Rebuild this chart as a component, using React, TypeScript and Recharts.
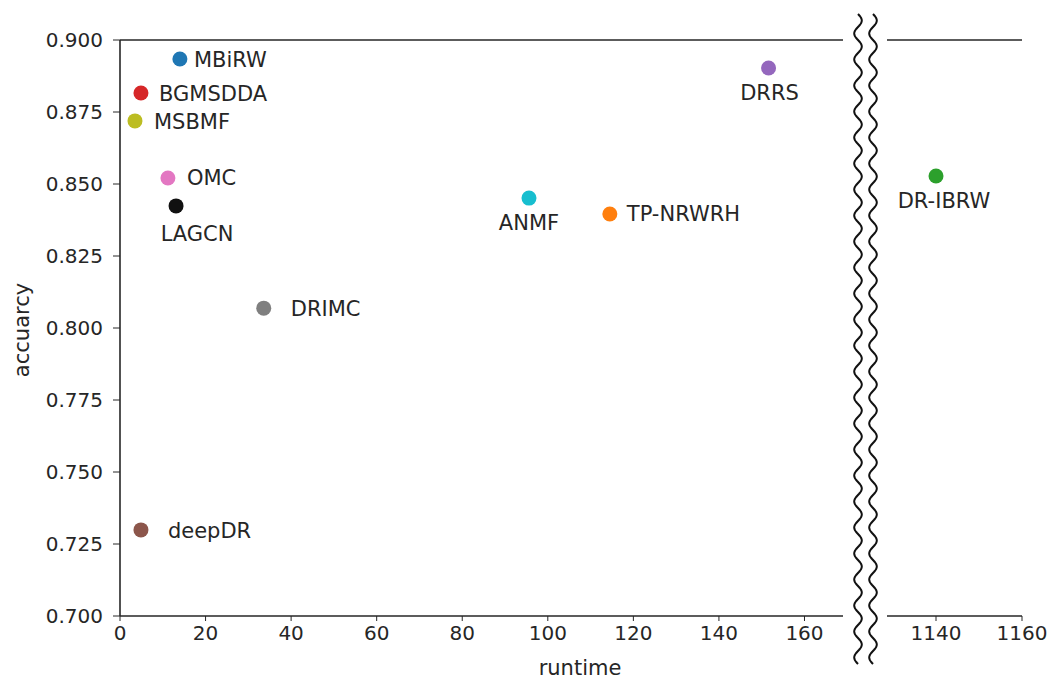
import { ReferenceLine, Scatter, ScatterChart, XAxis, YAxis } from "recharts";

const FONT = "'DejaVu Sans', 'Liberation Sans', sans-serif";
const INK = "#262626";

// methods, runtime (x) and accuracy (y)
const methods = [
  "MBiRW", "BGMSDDA", "MSBMF", "OMC", "LAGCN", "DRIMC",
  "deepDR", "ANMF", "TP-NRWRH", "DRRS", "DR-IBRW",
];
const runtimes = [14.0, 4.9, 3.5, 11.2, 13.1, 33.6, 4.9, 95.6, 114.5, 151.6, 1140];
const accuracies = [
  0.8934, 0.8816, 0.8719, 0.8521, 0.8424, 0.8069,
  0.7299, 0.8451, 0.8396, 0.8903, 0.8528,
];
const colors = [
  "#1f77b4", "#d62728", "#bcbd22", "#e377c2", "#111111", "#7f7f7f",
  "#8c564b", "#17becf", "#ff7f0e", "#9467bd", "#2ca02c",
];

const leftTicks = [0, 20, 40, 60, 80, 100, 120, 140, 160];
const rightTicks = [1140, 1160];
const yTicks = [0.7, 0.725, 0.75, 0.775, 0.8, 0.825, 0.85, 0.875, 0.9];

// where each annotation sits relative to its dot (styling only)
const PLACE: Record<string, { dx: number; dy: number; anchor: "start" | "middle" }> = {
  MBiRW: { dx: 14, dy: 1, anchor: "start" },
  BGMSDDA: { dx: 18, dy: 1, anchor: "start" },
  MSBMF: { dx: 19, dy: 1, anchor: "start" },
  OMC: { dx: 19, dy: 0, anchor: "start" },
  LAGCN: { dx: 21, dy: 28, anchor: "middle" },
  DRIMC: { dx: 27, dy: 1, anchor: "start" },
  deepDR: { dx: 27, dy: 1, anchor: "start" },
  ANMF: { dx: 0, dy: 25, anchor: "middle" },
  "TP-NRWRH": { dx: 17, dy: 0, anchor: "start" },
  DRRS: { dx: 1, dy: 25, anchor: "middle" },
  "DR-IBRW": { dx: 8, dy: 25, anchor: "middle" },
};

const points = methods.map((name, i) => ({
  name,
  x: runtimes[i],
  y: accuracies[i],
  color: colors[i],
}));
const leftData = points.filter((p) => p.x < 500);
const rightData = points.filter((p) => p.x >= 500);

function Marker(props: any) {
  const { cx, cy, payload } = props;
  const p = PLACE[payload.name];
  return (
    <g>
      <circle cx={cx} cy={cy} r={7.5} fill={payload.color} />
      <text
        x={cx + p.dx}
        y={cy + p.dy}
        textAnchor={p.anchor}
        dominantBaseline="central"
        fontSize={21}
        fontFamily={FONT}
        fill={INK}
      >
        {payload.name}
      </text>
    </g>
  );
}

const axisLine = { stroke: INK, strokeWidth: 1.6 };
const tickStyle = { fill: INK, fontSize: 20, fontFamily: FONT };

function wave(cx: number, y0: number, y1: number) {
  let d = "";
  for (let y = y0; y <= y1; y += 1) {
    const x = cx + 3.8 * Math.sin(((y - y0) / 26) * 2 * Math.PI);
    d += (y === y0 ? "M" : "L") + x.toFixed(2) + "," + y;
  }
  return d;
}

export default function App() {
  return (
    <div style={{ position: "absolute", left: 0, top: 0, width: 1051, height: 682, background: "#fff" }}>
      <div style={{ position: "absolute", left: 0, top: 0 }}>
        <ScatterChart width={850} height={682} margin={{ top: 40, right: 7, bottom: 36, left: 0 }}>
          <XAxis
            type="number"
            dataKey="x"
            domain={[0, 169]}
            ticks={leftTicks}
            height={30}
            tickSize={5}
            tickMargin={5}
            axisLine={axisLine}
            tickLine={{ stroke: INK }}
            tick={tickStyle}
          />
          <YAxis
            type="number"
            dataKey="y"
            domain={[0.7, 0.9]}
            ticks={yTicks}
            width={120}
            tickSize={7}
            tickMargin={10}
            tickFormatter={(v: number) => v.toFixed(3)}
            axisLine={axisLine}
            tickLine={{ stroke: INK }}
            tick={tickStyle}
          />
          <ReferenceLine y={0.9} stroke={INK} strokeWidth={1.6} />
          <Scatter data={leftData} shape={Marker} isAnimationActive={false} />
        </ScatterChart>
      </div>
      <div style={{ position: "absolute", left: 880, top: 0 }}>
        <ScatterChart width={171} height={682} margin={{ top: 40, right: 29, bottom: 36, left: 7 }}>
          <XAxis
            type="number"
            dataKey="x"
            domain={[1128.6, 1160]}
            ticks={rightTicks}
            height={30}
            tickSize={5}
            tickMargin={5}
            axisLine={axisLine}
            tickLine={{ stroke: INK }}
            tick={tickStyle}
          />
          <YAxis
            type="number"
            dataKey="y"
            domain={[0.7, 0.9]}
            orientation="right"
            width={0}
            tick={false}
            tickLine={false}
            axisLine={axisLine}
          />
          <ReferenceLine y={0.9} stroke={INK} strokeWidth={1.6} />
          <Scatter data={rightData} shape={Marker} isAnimationActive={false} />
        </ScatterChart>
      </div>
      <svg
        width={1051}
        height={682}
        style={{ position: "absolute", left: 0, top: 0, pointerEvents: "none" }}
      >
        <path d={wave(858, 14, 664)} fill="none" stroke="#111" strokeWidth={2} />
        <path d={wave(873, 14, 664)} fill="none" stroke="#111" strokeWidth={2} />
        <text x={580} y={668} textAnchor="middle" dominantBaseline="central" fontSize={21} fontFamily={FONT} fill={INK}>
          runtime
        </text>
        <text
          x={22}
          y={330}
          textAnchor="middle"
          dominantBaseline="central"
          fontSize={21}
          fontFamily={FONT}
          fill={INK}
          transform="rotate(-90 22 330)"
        >
          accuarcy
        </text>
      </svg>
    </div>
  );
}
